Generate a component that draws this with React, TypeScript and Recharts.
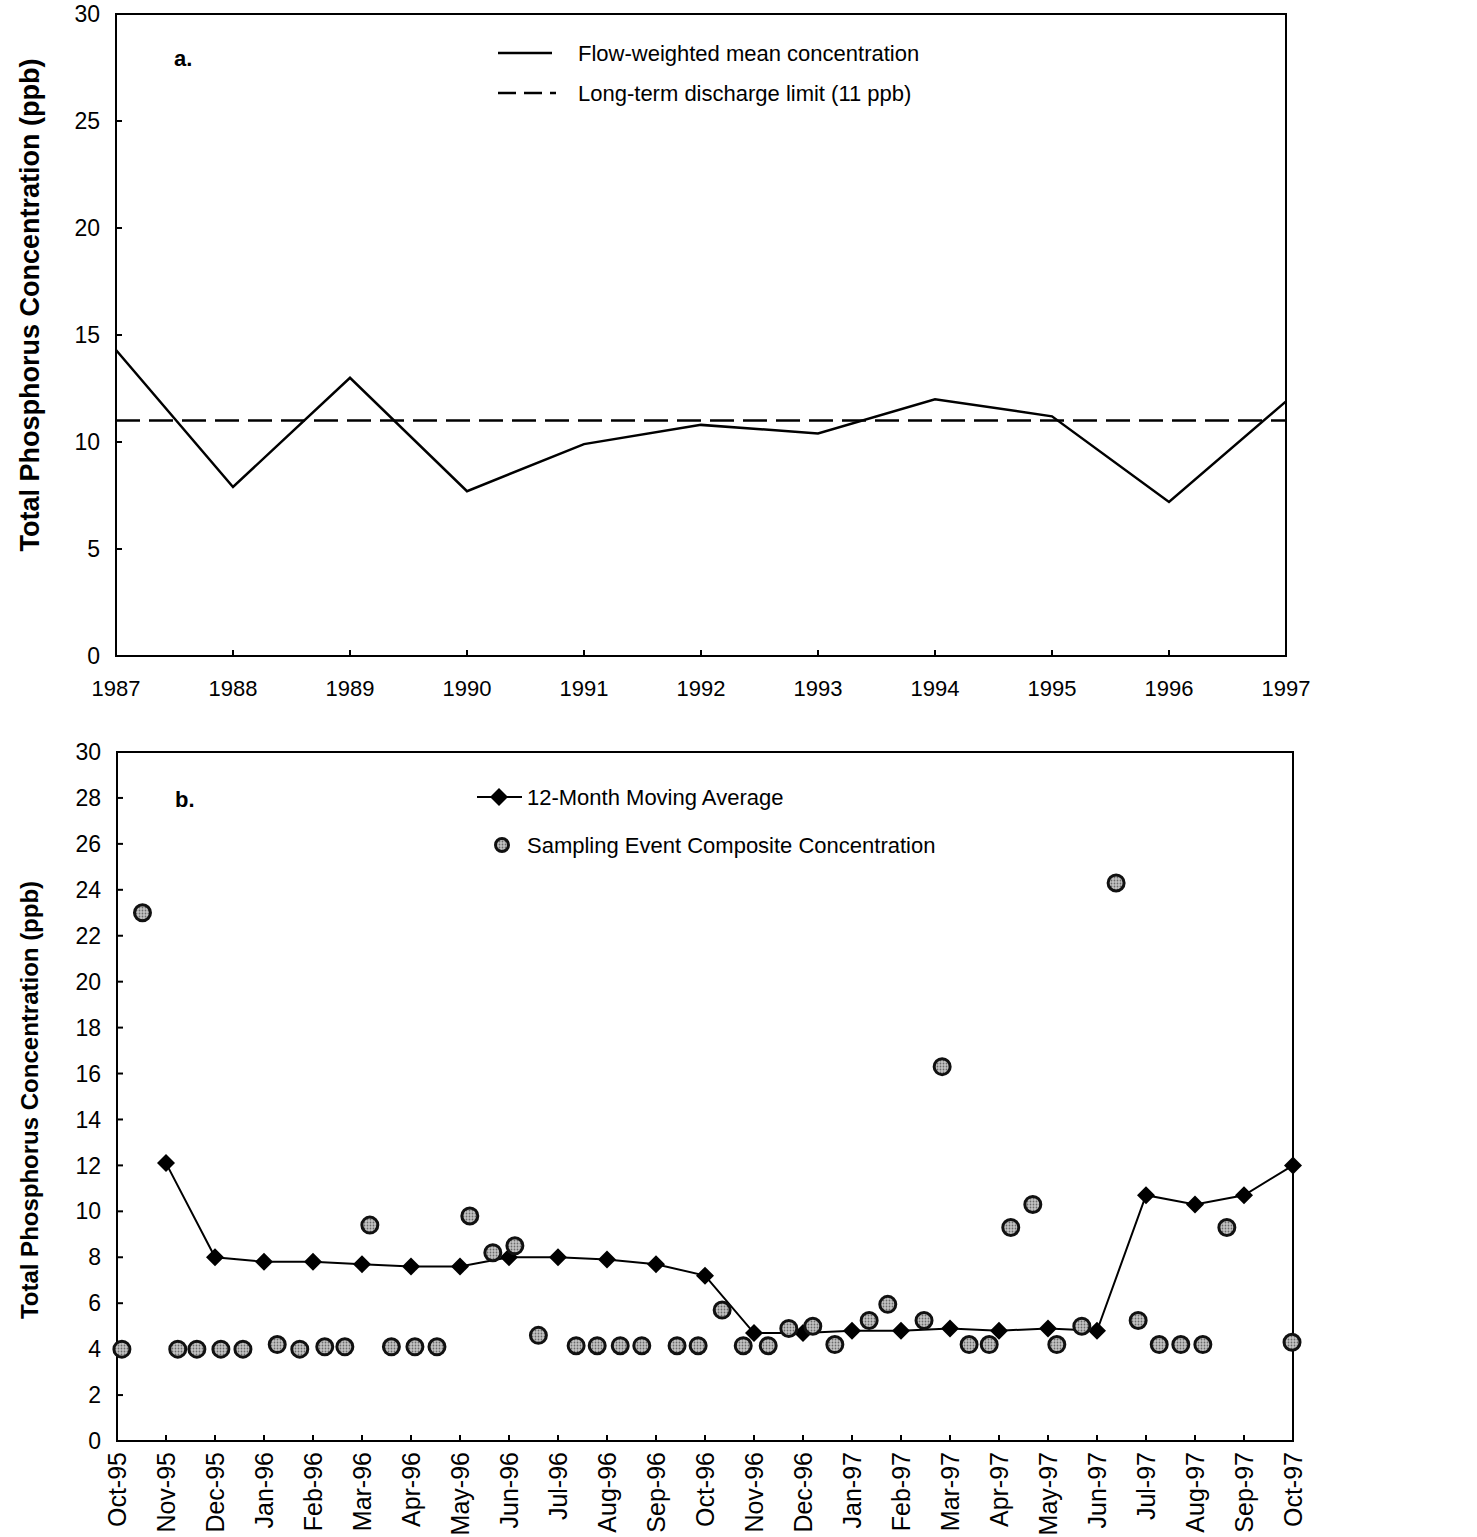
import React from 'react'
import { ComposedChart, Line, Scatter, XAxis, YAxis, ReferenceLine, ReferenceArea } from 'recharts'

const FONT = '"Liberation Sans", Arial, Helvetica, sans-serif'

// panel a: annual flow-weighted mean TP
const years = [1987, 1988, 1989, 1990, 1991, 1992, 1993, 1994, 1995, 1996, 1997]
const flowWeightedMean = [14.3, 7.9, 13.0, 7.7, 9.9, 10.8, 10.4, 12.0, 11.2, 7.2, 11.9]
const dischargeLimit = 11
const yTicksA = [0, 5, 10, 15, 20, 25, 30]

// panel b: monthly moving average + individual sampling events
const months = [
  'Oct-95', 'Nov-95', 'Dec-95', 'Jan-96', 'Feb-96', 'Mar-96', 'Apr-96', 'May-96', 'Jun-96',
  'Jul-96', 'Aug-96', 'Sep-96', 'Oct-96', 'Nov-96', 'Dec-96', 'Jan-97', 'Feb-97', 'Mar-97',
  'Apr-97', 'May-97', 'Jun-97', 'Jul-97', 'Aug-97', 'Sep-97', 'Oct-97',
]
const movingAverage = [
  null, 12.1, 8.0, 7.8, 7.8, 7.7, 7.6, 7.6, 8.0, 8.0, 7.9, 7.7, 7.2,
  4.7, 4.7, 4.8, 4.8, 4.9, 4.8, 4.9, 4.8, 10.7, 10.3, 10.7, 12.0,
]
// sample dates expressed as months after Oct-95
const sampleMonths = [
  0.1, 0.52, 1.24, 1.63, 2.12, 2.57, 3.27, 3.73, 4.24, 4.65, 5.16, 5.6, 6.08, 6.53,
  7.2, 7.67, 8.12, 8.6, 9.37, 9.8, 10.27, 10.71, 11.43, 11.86, 12.35, 12.78, 13.29,
  13.71, 14.2, 14.65, 15.35, 15.73, 16.47, 16.84, 17.39, 17.8, 18.24, 18.69, 19.18,
  19.69, 20.39, 20.84, 21.27, 21.71, 22.16, 22.65, 23.98,
]
const sampleValues = [
  4.0, 23.0, 4.0, 4.0, 4.0, 4.0, 4.2, 4.0, 4.1, 4.1, 9.4, 4.1, 4.1, 4.1,
  9.8, 8.2, 8.5, 4.6, 4.15, 4.15, 4.15, 4.15, 4.15, 4.15, 5.7, 4.15, 4.15,
  4.9, 5.0, 4.2, 5.25, 5.95, 5.25, 16.3, 4.2, 4.2, 9.3, 10.3, 4.2,
  5.0, 24.3, 5.25, 4.2, 4.2, 4.2, 9.3, 4.3,
]
const yTicksB = [0, 2, 4, 6, 8, 10, 12, 14, 16, 18, 20, 22, 24, 26, 28, 30]

const annualData = years.map((year, i) => ({ year, fwm: flowWeightedMean[i] }))
const avgData = months
  .map((_, i) => ({ x: i, y: movingAverage[i] }))
  .filter((d) => d.y != null)
const sampleData = sampleMonths.map((x, i) => ({ x, y: sampleValues[i] }))
const monthTicks = months.map((_, i) => i)

const axisStyle = { stroke: '#000', strokeWidth: 2 }
const tickFontX = { fontSize: 22, fill: '#000', fontFamily: FONT }
const tickFontY = { fontSize: 23, fill: '#000', fontFamily: FONT }
const CIRCLE_FILL = 'url(#stipple)'

const yTitle = (cx: number, cy: number, size: number) => () => (
  <text
    x={cx}
    y={cy}
    transform={`rotate(-90 ${cx} ${cy})`}
    textAnchor="middle"
    dy="0.35em"
    fontSize={size}
    fontWeight="bold"
    fontFamily={FONT}
    fill="#000"
  >
    Total Phosphorus Concentration (ppb)
  </text>
)

const Diamond = (props: any) => {
  const { cx, cy } = props
  if (cx == null || cy == null) return <g />
  const s = 9
  return <polygon points={`${cx},${cy - s} ${cx + s},${cy} ${cx},${cy + s} ${cx - s},${cy}`} fill="#000" />
}

const MonthTick = (props: any) => {
  const { x, y, payload } = props
  return (
    <text
      x={x}
      y={y}
      transform={`rotate(-90 ${x} ${y})`}
      textAnchor="end"
      dy="0.35em"
      fontSize={25}
      fontFamily={FONT}
      fill="#000"
    >
      {months[payload.value]}
    </text>
  )
}

function Legends() {
  const txt = { fontSize: 22, fontFamily: FONT, fill: '#000' }
  return (
    <svg width={1477} height={1537} style={{ position: 'absolute', left: 0, top: 0, pointerEvents: 'none' }}>
      <defs>
        <pattern id="stipple" width={3} height={3} patternUnits="userSpaceOnUse">
          <rect width={3} height={3} fill="#c4c4c4" />
          <circle cx={1.5} cy={1.5} r={0.9} fill="#6a6a6a" />
        </pattern>
      </defs>
      <text x={174} y={58} dy="0.35em" {...txt} fontWeight="bold">a.</text>
      <line x1={498} y1={53} x2={552} y2={53} stroke="#000" strokeWidth={2.5} />
      <text x={578} y={53} dy="0.35em" {...txt}>Flow-weighted mean concentration</text>
      <line x1={498} y1={93} x2={556} y2={93} stroke="#000" strokeWidth={2.5} strokeDasharray="18 8" />
      <text x={578} y={93} dy="0.35em" {...txt}>Long-term discharge limit (11 ppb)</text>

      <text x={175} y={799} dy="0.35em" {...txt} fontWeight="bold">b.</text>
      <line x1={477} y1={797} x2={522} y2={797} stroke="#000" strokeWidth={2} />
      <Diamond cx={499} cy={797} />
      <text x={527} y={797} dy="0.35em" {...txt}>12-Month Moving Average</text>
      <circle cx={502} cy={845} r={6.5} fill={CIRCLE_FILL} stroke="#111" strokeWidth={3} />
      <text x={527} y={845} dy="0.35em" {...txt}>Sampling Event Composite Concentration</text>
    </svg>
  )
}

export default function App() {
  return (
    <div style={{ position: 'absolute', left: 0, top: 0, width: 1477, height: 1537, background: '#fff' }}>
      <div style={{ position: 'absolute', left: 0, top: 0 }}>
        <ComposedChart width={1477} height={720} data={annualData} margin={{ top: 14, right: 191, bottom: 0, left: 0 }}>
          <XAxis
            dataKey="year"
            type="number"
            domain={[1987, 1997]}
            ticks={years}
            interval={0}
            height={64}
            tickSize={-6}
            tickMargin={30}
            axisLine={axisStyle}
            tickLine={axisStyle}
            tick={tickFontX}
          />
          <YAxis
            type="number"
            domain={[0, 30]}
            ticks={yTicksA}
            interval={0}
            width={116}
            tickSize={-6}
            tickMargin={22}
            axisLine={axisStyle}
            tickLine={axisStyle}
            tick={tickFontY}
            label={{ content: yTitle(30, 305, 27) }}
          />
          <ReferenceArea x1={1987} x2={1997} y1={0} y2={30} fill="none" stroke="#000" strokeWidth={2} />
          <ReferenceLine y={dischargeLimit} stroke="#000" strokeWidth={2.5} strokeDasharray="24 9" />
          <Line dataKey="fwm" type="linear" stroke="#000" strokeWidth={2.5} dot={false} isAnimationActive={false} />
        </ComposedChart>
      </div>

      <div style={{ position: 'absolute', left: 0, top: 720 }}>
        <ComposedChart width={1477} height={817} margin={{ top: 32, right: 184, bottom: 0, left: 0 }}>
          <XAxis
            dataKey="x"
            type="number"
            domain={[0, 24]}
            ticks={monthTicks}
            interval={0}
            height={96}
            tickSize={-6}
            tickMargin={17}
            axisLine={axisStyle}
            tickLine={axisStyle}
            tick={MonthTick}
          />
          <YAxis
            type="number"
            domain={[0, 30]}
            ticks={yTicksB}
            interval={0}
            width={117}
            tickSize={-6}
            tickMargin={22}
            axisLine={axisStyle}
            tickLine={axisStyle}
            tick={tickFontY}
            label={{ content: yTitle(30, 380, 24) }}
          />
          <ReferenceArea x1={0} x2={24} y1={0} y2={30} fill="none" stroke="#000" strokeWidth={2} />
          <Line
            data={avgData}
            dataKey="y"
            type="linear"
            stroke="#000"
            strokeWidth={2}
            dot={<Diamond />}
            activeDot={false}
            isAnimationActive={false}
          />
          <Scatter
            data={sampleData}
            dataKey="y"
            isAnimationActive={false}
            shape={(p: any) => <circle cx={p.cx} cy={p.cy} r={8} fill={CIRCLE_FILL} stroke="#111" strokeWidth={3} />}
          />
        </ComposedChart>
      </div>

      <Legends />
    </div>
  )
}
